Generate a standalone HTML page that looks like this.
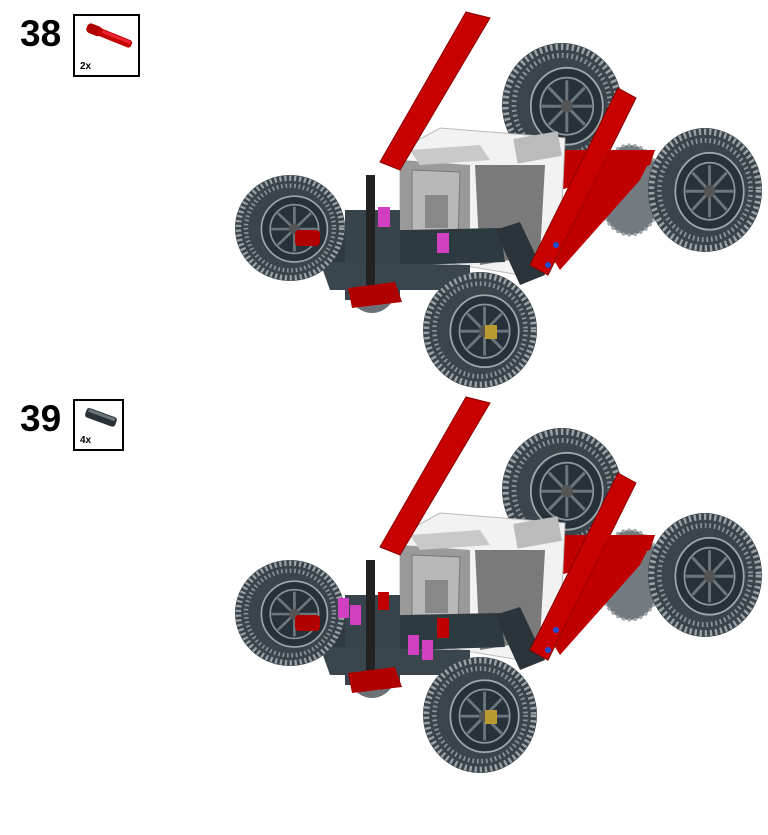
<!DOCTYPE html>
<html><head><style>
html,body{margin:0;padding:0;background:#fff;}
body{width:768px;height:835px;position:relative;overflow:hidden;font-family:"Liberation Sans",sans-serif;}
.num{position:absolute;left:20px;font-size:37px;font-weight:bold;color:#000;line-height:1;}
.box{position:absolute;border:2px solid #000;background:#fff;box-sizing:border-box;}
.qty{position:absolute;left:5px;bottom:3px;font-size:10px;font-weight:bold;}
</style></head><body>
<div class="num" style="top:15px">38</div>
<div class="box" style="left:73px;top:14px;width:67px;height:63px">
<svg width="63" height="40" style="position:absolute;left:2px;top:2px"><g transform="rotate(22 30 18)"><rect x="8" y="12" width="16" height="10" rx="4" fill="#b00000"/><rect x="20" y="13" width="36" height="8" rx="3" fill="#c40000"/><rect x="24" y="14" width="30" height="3" fill="#e23"/></g></svg>
<div class="qty">2x</div></div>
<div class="num" style="top:400px">39</div>
<div class="box" style="left:73px;top:399px;width:51px;height:52px">
<svg width="47" height="30" style="position:absolute;left:2px;top:2px"><g transform="rotate(20 23 14)"><rect x="8" y="9" width="32" height="10" rx="3" fill="#2a3238"/><rect x="10" y="10" width="28" height="3" fill="#6a757c"/></g></svg>
<div class="qty">4x</div></div>

<svg width="768" height="835" style="position:absolute;left:0;top:0">
<defs>
<g id="wheel">
<ellipse cx="0" cy="0" rx="1" ry="1" fill="#3a444a"/>
<ellipse cx="0" cy="0" rx="0.94" ry="0.94" fill="none" stroke="#9aa3a8" stroke-width="0.1" stroke-dasharray="0.04 0.05"/>
<ellipse cx="0" cy="0" rx="0.8" ry="0.8" fill="none" stroke="#8a9499" stroke-width="0.08" stroke-dasharray="0.03 0.05"/>
<ellipse cx="0.08" cy="0.02" rx="0.6" ry="0.62" fill="#27313a" stroke="#a0a8ac" stroke-width="0.03"/>
<ellipse cx="0.08" cy="0.02" rx="0.44" ry="0.46" fill="none" stroke="#8a9499" stroke-width="0.03"/>
<path d="M0.08,-0.4 L0.08,0.44 M-0.34,0.02 L0.5,0.02 M-0.22,-0.28 L0.38,0.32 M-0.22,0.32 L0.38,-0.28" stroke="#6a757c" stroke-width="0.05"/>
<ellipse cx="0.08" cy="0.02" rx="0.1" ry="0.1" fill="#555"/>
</g>
<g id="robot">
<use href="#wheel" transform="translate(562,105) scale(60,62)"/>
<ellipse cx="630" cy="190" rx="32" ry="45" fill="#737b80" stroke="#a0a8ac" stroke-width="3" stroke-dasharray="3 3"/>
<ellipse cx="372" cy="285" rx="25" ry="28" fill="#6a7277"/>
<polygon points="560,150 655,150 650,165 560,190" fill="#c00000"/>
<polygon points="400,150 440,128 565,138 560,250 520,275 400,255" fill="#f2f2f2" stroke="#bbb"/>
<polygon points="400,160 470,165 470,245 400,250" fill="#9a9a9a"/>
<polygon points="475,165 545,165 540,255 480,265" fill="#7a7a7a"/>
<polygon points="412,170 460,172 458,240 412,238" fill="#b8b8b8" stroke="#777"/>
<polygon points="425,195 448,195 448,228 425,228" fill="#888"/>
<polygon points="410,150 480,145 490,160 420,165" fill="#c9c9c9"/>
<rect x="515" y="135" width="45" height="25" fill="#bbb" transform="rotate(-10 537 147)"/>
<polygon points="310,232 500,228 505,262 320,268" fill="#2e3a42"/>
<polygon points="345,210 400,210 400,300 345,300" fill="#38444b"/>
<polygon points="320,262 470,265 470,290 330,290" fill="#3a464d"/>
<polygon points="495,230 520,222 545,275 520,285" fill="#2a343a"/>
<use href="#wheel" transform="translate(290,228) scale(55,53)"/>
<rect x="295" y="230" width="25" height="16" rx="4" fill="#b00000"/>
<use href="#wheel" transform="translate(705,190) scale(57,62)"/>
<polygon points="466,12 490,18 400,170 380,162" fill="#c80000" stroke="#800" stroke-width="1"/>
<polygon points="618,88 636,98 548,275 530,265" fill="#c80000" stroke="#800" stroke-width="1"/>
<polygon points="610,150 655,150 640,180 560,270 555,262" fill="#c00000"/>
<circle cx="556" cy="245" r="3" fill="#1f4fd0"/><circle cx="548" cy="265" r="3" fill="#1f4fd0"/>
<rect x="366" y="175" width="9" height="115" fill="#222"/>
<polygon points="348,288 395,282 402,302 352,308" fill="#b00000"/>
<use href="#wheel" transform="translate(480,330) scale(57,58)"/>
<rect x="485" y="325" width="12" height="14" fill="#b89a30"/>
</g>
</defs>
<use href="#robot"/>
<g transform="translate(0,385)"><use href="#robot"/></g>
<rect x="378" y="207" width="12" height="20" fill="#d040c0"/>
<rect x="437" y="233" width="12" height="20" fill="#d040c0"/>
<rect x="338" y="598" width="11" height="20" fill="#d040c0"/>
<rect x="350" y="605" width="11" height="20" fill="#d040c0"/>
<rect x="378" y="592" width="11" height="18" fill="#c00000"/>
<rect x="437" y="618" width="12" height="20" fill="#c00000"/>
<rect x="408" y="635" width="11" height="20" fill="#d040c0"/>
<rect x="422" y="640" width="11" height="20" fill="#d040c0"/>
</svg>
</body></html>
